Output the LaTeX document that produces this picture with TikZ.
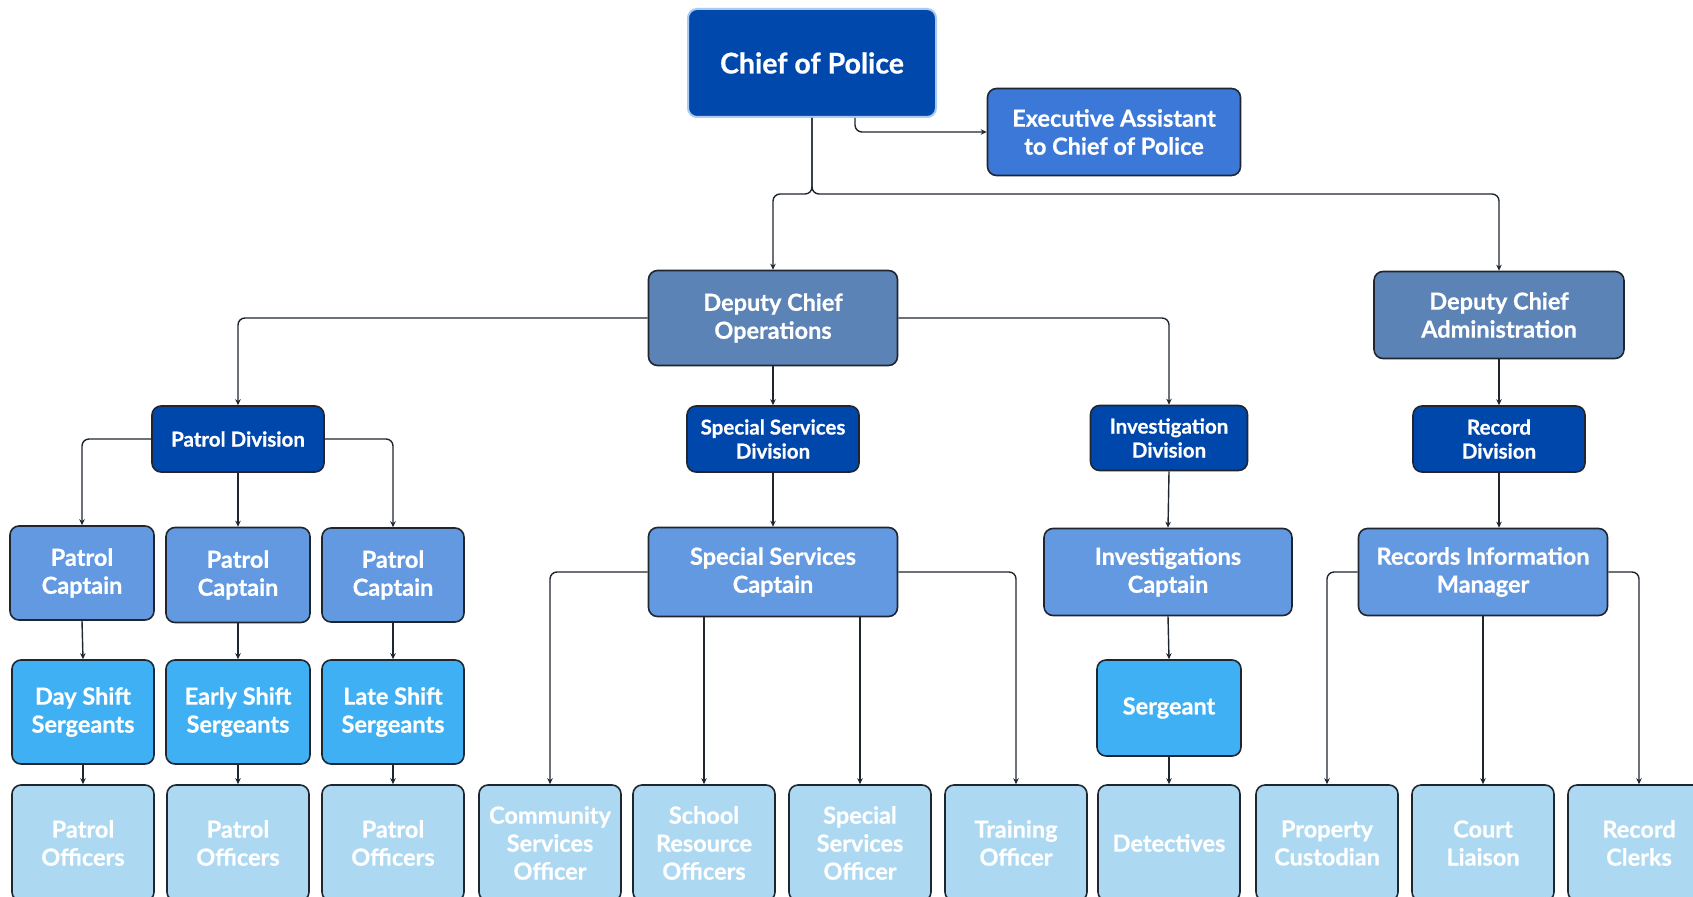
\documentclass[tikz,border=0pt]{standalone}
\usepackage{fontspec}
\setmainfont{Lato}[BoldFeatures={FakeBold=0.7}]
\usetikzlibrary{arrows.meta}

\definecolor{chiefblue}{HTML}{0048AB}
\definecolor{chiefedge}{HTML}{A9CBF2}
\definecolor{execblue}{HTML}{3B78D8}
\definecolor{deputyblue}{HTML}{5B83B6}
\definecolor{divblue}{HTML}{0047AB}
\definecolor{captblue}{HTML}{6399E0}
\definecolor{sgtblue}{HTML}{3EB0F3}
\definecolor{staffblue}{HTML}{ADD8F1}
\definecolor{edgegray}{HTML}{1F2630}

\tikzset{
  unit/.style={draw=edgegray, line width=1.6pt, rounded corners=9pt, text=white,
    align=center, inner sep=0pt, font=\bfseries\fontsize{23.5}{28}\selectfont},
  sz/.style 2 args={minimum width=#1pt, minimum height=#2pt},
  deputy/.style={unit, fill=deputyblue},
  division/.style={unit, fill=divblue, font=\bfseries\fontsize{20.5}{24}\selectfont},
  captain/.style={unit, fill=captblue},
  sergeant/.style={unit, fill=sgtblue},
  staff/.style={unit, fill=staffblue, sz={142}{116}},
  conn/.style={draw=edgegray, line width=1.4pt, rounded corners=7pt,
    -{Stealth[length=6pt,width=5.5pt]}}
}

\begin{document}
\begin{tikzpicture}[x=1pt,y=-1pt]
\useasboundingbox (0,0) rectangle (1693,896);

\node[unit, fill=chiefblue, draw=chiefedge, line width=2pt, sz={248}{108},
  font=\bfseries\fontsize{28.5}{32}\selectfont] (chief) at (812,63) {Chief of Police};
\node[unit, fill=execblue, sz={253}{87}] (exec) at (1114,132) {Executive Assistant\\to Chief of Police};

\node[deputy, sz={249}{95}] (dcops) at (773,318) {Deputy Chief\\Operations};
\node[deputy, sz={250}{87}] (dcadm) at (1499,315) {Deputy Chief\\Administration};

\node[division, sz={172}{66}] (patdiv) at (238,439) {Patrol Division};
\node[division, sz={172}{66}] (ssdiv) at (773,439) {Special Services\\Division};
\node[division, sz={157}{65}] (invdiv) at (1169,438) {Investigation\\Division};
\node[division, sz={172}{66}] (recdiv) at (1499,439) {Record\\Division};

\node[captain, sz={144}{94}] (pcapA) at (82,573) {Patrol\\Captain};
\node[captain, sz={144}{95}] (pcapB) at (238,575) {Patrol\\Captain};
\node[captain, sz={142}{94}] (pcapC) at (393,575) {Patrol\\Captain};
\node[captain, sz={249}{89}] (sscap) at (773,572) {Special Services\\Captain};
\node[captain, sz={248}{87}] (invcap) at (1168,572) {Investigations\\Captain};
\node[captain, sz={249}{87}] (rim) at (1483,572) {Records Information\\Manager};

\node[sergeant, sz={142}{104}] (sgtA) at (83,712) {Day Shift\\Sergeants};
\node[sergeant, sz={144}{104}] (sgtB) at (238,712) {Early Shift\\Sergeants};
\node[sergeant, sz={142}{104}] (sgtC) at (393,712) {Late Shift\\Sergeants};
\node[sergeant, sz={144}{96}] (sgt) at (1169,708) {Sergeant};

\node[staff] (poA) at (83,843) {Patrol\\Officers};
\node[staff] (poB) at (238,843) {Patrol\\Officers};
\node[staff] (poC) at (393,843) {Patrol\\Officers};
\node[staff] (cso) at (550,843) {Community\\Services\\Officer};
\node[staff] (sro) at (704,843) {School\\Resource\\Officers};
\node[staff] (sso) at (860,843) {Special\\Services\\Officer};
\node[staff] (train) at (1016,843) {Training\\Officer};
\node[staff] (det) at (1169,843) {Detectives};
\node[staff] (prop) at (1327,843) {Property\\Custodian};
\node[staff] (court) at (1483,843) {Court\\Liaison};
\node[staff] (clerk) at (1639,843) {Record\\Clerks};

\draw[conn] ([xshift=43pt]chief.south) |- (exec.west);
\draw[conn] (chief.south) -- ++(0,76) -| (dcops.north);
\draw[conn] (chief.south) -- ++(0,76) -| (dcadm.north);

\draw[conn] (dcops.west) -| (patdiv.north);
\draw[conn] (dcops.south) -- (ssdiv.north);
\draw[conn] (dcops.east) -| (invdiv.north);
\draw[conn] (dcadm.south) -- (recdiv.north);

\draw[conn] (patdiv.west) -| (pcapA.north);
\draw[conn] (patdiv.south) -- (pcapB.north);
\draw[conn] (patdiv.east) -| (pcapC.north);
\draw[conn] (pcapA.south) -- (sgtA.north);
\draw[conn] (pcapB.south) -- (sgtB.north);
\draw[conn] (pcapC.south) -- (sgtC.north);
\draw[conn] (sgtA.south) -- (poA.north);
\draw[conn] (sgtB.south) -- (poB.north);
\draw[conn] (sgtC.south) -- (poC.north);

\draw[conn] (ssdiv.south) -- (sscap.north);
\draw[conn] (sscap.west) -| (cso.north);
\draw[conn] (sro.north |- sscap.south) -- (sro.north);
\draw[conn] (sso.north |- sscap.south) -- (sso.north);
\draw[conn] (sscap.east) -| (train.north);

\draw[conn] (invdiv.south) -- (invcap.north);
\draw[conn] (invcap.south) -- (sgt.north);
\draw[conn] (sgt.south) -- (det.north);

\draw[conn] (recdiv.south) -- (recdiv.south |- rim.north);
\draw[conn] (rim.west) -| (prop.north);
\draw[conn] (court.north |- rim.south) -- (court.north);
\draw[conn] (rim.east) -| (clerk.north);
\end{tikzpicture}
\end{document}
